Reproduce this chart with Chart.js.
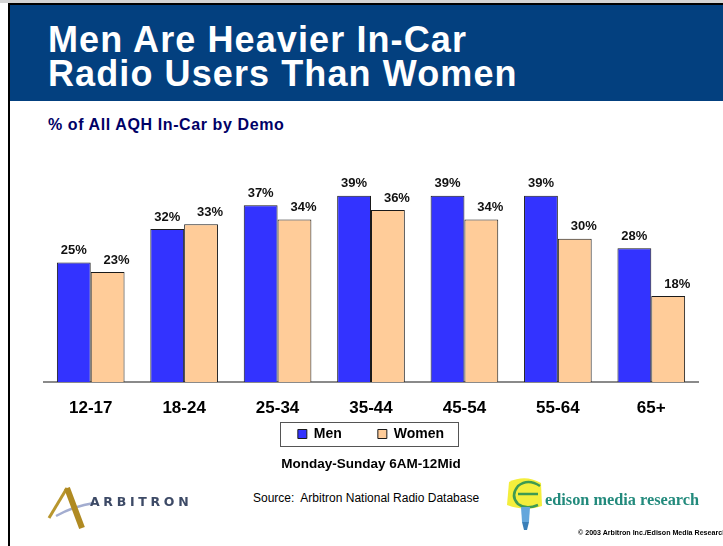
<!DOCTYPE html>
<html>
<head>
<meta charset="utf-8">
<script src="https://cdn.jsdelivr.net/npm/chart.js@4/dist/chart.umd.min.js"></script>
<style>
  html, body { margin: 0; padding: 0; background: #fff; }
  #page { position: relative; width: 723px; height: 546px; overflow: hidden; font-family: "Liberation Sans", Arial, sans-serif; }
  .abs { position: absolute; white-space: pre; }
  #topline { left: 0; top: 0; width: 723px; height: 3px; background: #d4d4d4; }
  #frame { left: 8px; top: 3px; width: 740px; height: 560px; border-left: 2px solid #000; border-top: 2px solid #000; }
  #banner { left: 10px; top: 5px; width: 713px; height: 96px; background: #03407f; }
  #title { left: 48px; top: 23px; color: #fff; font-weight: bold; font-size: 36px; line-height: 34px; letter-spacing: 1.1px; }
  #subtitle { left: 48px; top: 116px; color: #000066; font-weight: bold; font-size: 16px; letter-spacing: 0.6px; }
  #chartbox { left: 0; top: 140px; width: 723px; height: 345px; }
  #days { left: 0; width: 742px; top: 456px; text-align: center; font-weight: bold; font-size: 13.5px; color: #000; }
  #source { left: 253px; top: 491px; font-size: 12px; color: #000; }
  #edison { left: 545px; top: 490px; font-family: "Liberation Serif", "DejaVu Serif", serif; font-weight: bold; font-size: 16.3px; color: #228a7c; }
  #copy { left: 578px; top: 529px; font-size: 7.1px; font-weight: bold; color: #000; }
  #arbtext { left: 90px; top: 494px; font-size: 12.5px; font-weight: bold; letter-spacing: 3.7px; color: #3d4a66; font-family: "DejaVu Sans", sans-serif; }
</style>
</head>
<body>
<div id="page">
  <div class="abs" id="topline"></div>
  <div class="abs" id="frame"></div>
  <div class="abs" id="banner"></div>
  <div class="abs" id="title">Men Are Heavier In-Car
Radio Users Than Women</div>
  <div class="abs" id="subtitle">% of All AQH In-Car by Demo</div>
  <div class="abs" id="chartbox"><canvas id="chart" width="723" height="345"></canvas></div>
  <div class="abs" id="days">Monday-Sunday 6AM-12Mid</div>

  <svg class="abs" style="left:40px;top:480px" width="60" height="55" viewBox="40 480 60 55">
    <path d="M56 516 Q74 506 94 503" stroke="#a3add0" stroke-width="2.5" fill="none"/>
    <path d="M49 518 L67 488" stroke="#b8962e" stroke-width="3" fill="none"/>
    <path d="M67 488 L82 528" stroke="#b08a22" stroke-width="6" fill="none"/>
  </svg>
  <div class="abs" id="arbtext">ARBITRON</div>

  <div class="abs" id="source">Source:  Arbitron National Radio Database</div>

  <svg class="abs" style="left:505px;top:476px" width="40" height="58" viewBox="505 476 40 58">
    <path d="M509 482 Q525 474 541 483 L542 506 Q526 512 507 505 Z" fill="#f4ee3c"/>
    <path d="M540 486 Q528 478 518 486 Q510 496 518 504 Q526 510 538 505 M518 494 L538 494" stroke="#3e9a52" stroke-width="2.5" fill="none"/>
    <path d="M521 507 L530 507 L529 522 L522 522 Z" fill="#63a6dc"/>
    <path d="M522 522 L529 522 L527 530 L524 530 Z" fill="#3a7fb8"/>
  </svg>
  <div class="abs" id="edison">edison media research</div>
  <div class="abs" id="copy">© 2003 Arbitron Inc./Edison Media Research</div>
</div>

<script>
const categories = ["12-17", "18-24", "25-34", "35-44", "45-54", "55-64", "65+"];
const menValues = [25, 32, 37, 39, 39, 39, 28];
const womenValues = [23, 33, 34, 36, 34, 30, 18];

const LEGEND_PAD = 36;

// value labels above each bar (women labels sit a little to the right)
const valueLabels = {
    id: "valueLabels",
    afterDatasetsDraw(chart) {
        const ctx = chart.ctx;
        const shift = [0, 9];
        ctx.save();
        ctx.font = "bold 13px 'Liberation Sans', Arial, sans-serif";
        ctx.fillStyle = "#111";
        ctx.textAlign = "center";
        ctx.textBaseline = "middle";
        chart.data.datasets.forEach((ds, i) => {
            chart.getDatasetMeta(i).data.forEach((bar, j) => {
                ctx.fillText(ds.data[j] + "%", bar.x + shift[i], bar.y - 12);
            });
        });
        ctx.restore();
    }
};

// pull the legend up closer to the axis labels, the wide item gap makes it sit too low
const legendLift = {
    id: "legendLift",
    afterLayout(chart) {
        const lg = chart.legend;
        lg.top -= 25;
        lg.bottom -= 25;
    }
};

// framed legend box
const legendFrame = {
    id: "legendFrame",
    afterDraw(chart) {
        const lg = chart.legend;
        const boxes = lg.legendHitBoxes;
        if (!boxes || !boxes.length) return;
        const first = boxes[0];
        const last = boxes[boxes.length - 1];
        const itemTop = lg.top + LEGEND_PAD;
        const ctx = chart.ctx;
        ctx.save();
        ctx.strokeStyle = "#555";
        ctx.lineWidth = 1;
        const x0 = Math.round(first.left - 18) + 0.5;
        const x1 = Math.round(last.left + last.width + 14) + 0.5;
        const y0 = Math.round(itemTop - 5) + 0.5;
        const y1 = Math.round(itemTop + first.height + 5) + 0.5;
        ctx.strokeRect(x0, y0, x1 - x0, y1 - y0);
        ctx.restore();
    }
};

new Chart(document.getElementById("chart"), {
    type: "bar",
    data: {
        labels: categories,
        datasets: [
            {
                label: "Men",
                data: menValues,
                backgroundColor: "#3333ff",
                borderColor: "#1a1a1a",
                borderWidth: 1,
                borderSkipped: "bottom"
            },
            {
                label: "Women",
                data: womenValues,
                backgroundColor: "#ffcc99",
                borderColor: "#1a1a1a",
                borderWidth: 1,
                borderSkipped: "bottom"
            }
        ]
    },
    options: {
        responsive: false,
        animation: false,
        layout: {
            padding: {left: 44, right: 25, top: 27, bottom: 9}
        },
        datasets: {
            bar: {categoryPercentage: 0.724, barPercentage: 1}
        },
        scales: {
            x: {
                grid: {display: true, drawOnChartArea: false, drawTicks: false},
                border: {display: true, color: "#8a8a8a", width: 2},
                ticks: {
                    color: "#000",
                    padding: 16,
                    font: {family: "'Liberation Sans', Arial, sans-serif", size: 17, weight: "bold"}
                },
                afterFit(scale) { scale.height = 34; }
            },
            y: {
                display: false,
                min: 0,
                max: 45
            }
        },
        plugins: {
            legend: {
                position: "bottom",
                labels: {
                    color: "#000",
                    boxWidth: 9,
                    boxHeight: 9,
                    padding: LEGEND_PAD,
                    font: {family: "'Liberation Sans', Arial, sans-serif", size: 14, weight: "bold"}
                }
            },
            tooltip: {enabled: false}
        }
    },
    plugins: [valueLabels, legendLift, legendFrame]
});
</script>
</body>
</html>
